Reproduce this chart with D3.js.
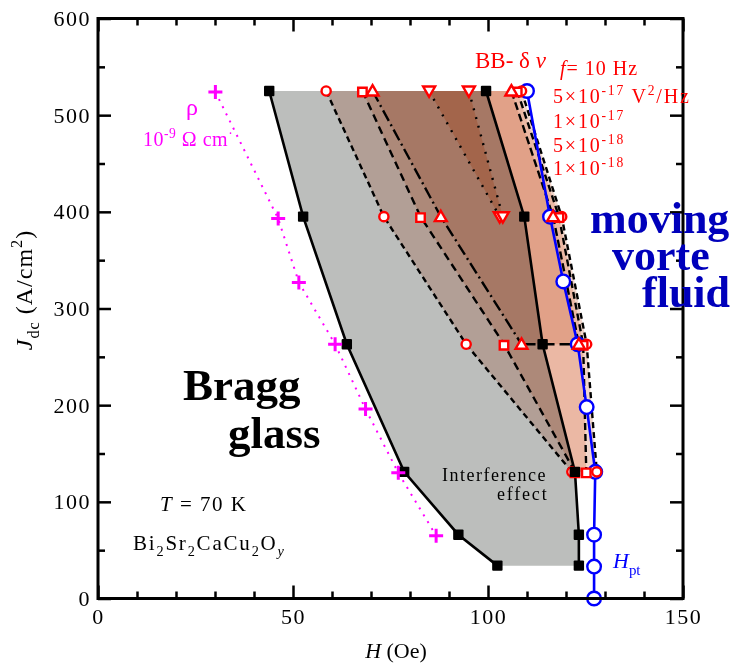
<!DOCTYPE html>
<html><head><meta charset="utf-8">
<script src="https://cdn.jsdelivr.net/npm/d3@7"></script>
<style>
body{margin:0;background:#fff}
svg{display:block}
text{font-family:"Liberation Serif","Times New Roman",serif}
</style>
</head><body>
<svg id="c" width="733" height="665"></svg>
<script>
// ---------- data ----------
const xMajorTicks = [0, 50, 100, 150];
const xMinorTicks = [10, 20, 30, 40, 60, 70, 80, 90, 110, 120, 130, 140];
const yMajorTicks = [0, 100, 200, 300, 400, 500, 600];
const yMinorTicks = [50, 150, 250, 350, 450, 550];

// Bragg glass boundaries (black squares)
const braggJ = [525, 395, 263, 131, 66, 34];
const braggLeftH = [43.9, 52.6, 63.8, 78.5, 92.4, 102.4];
const braggRightH = [99.5, 109.3, 114.0, 122.3, 123.3, 123.3];

// H_pt (blue circles)
const hptJ = [525, 395, 328, 263, 198, 131, 66, 33, 0];
const hptH = [110.0, 115.9, 119.3, 123.0, 125.3, 127.5, 127.2, 127.2, 127.2];

// rho = 1e-9 Ohm cm (magenta crosses)
const rhoJ = [524, 393, 327, 263, 196, 130, 65];
const rhoH = [30.1, 46.2, 51.5, 60.8, 68.6, 77.0, 86.7];

// BB noise contours (f = 10 Hz)
const noiseJ = [525, 395, 263, 131];
const n1e18Left  = [58.5, 73.3, 94.4, 121.5];   // circles
const n1e18Right = [108.6, 118.9, 125.3, 127.9];
const n5e18Left  = [67.8, 82.7, 104.1, 122.3];  // squares
const n5e18Right = [107.5, 118.2, 124.4, 125.2];
const n1e17Left  = [70.4, 87.9, 108.6];         // triangles up
const n1e17Right = [106.0, 116.7, 123.3];
const n5e17Left  = [84.9, 103.0];               // triangles down
const n5e17Right = [95.1, 103.8];

// ---------- setup ----------
const svg = d3.select("#c");
const x = d3.scaleLinear().domain([0, 150]).range([98, 683]);
const y = d3.scaleLinear().domain([0, 600]).range([598.5, 18.5]);
const zip = (hs, js) => hs.map((h, i) => [h, js[i]]);
const line = d3.line().x(d => x(d[0])).y(d => y(d[1]));
const poly = (L, R, js) => {
  const left = zip(L, js.slice(0, L.length));
  const right = zip(R, js.slice(0, R.length)).reverse();
  return line(left.concat(right)) + "Z";
};

// ---------- regions ----------
const gReg = svg.append("g");
gReg.append("path").attr("d", poly(braggLeftH, braggRightH, braggJ)).attr("fill", "#bcbebc");
const layers = [
  [n1e18Left, n1e18Right, "#f2d6cb"],
  [n5e18Left, n5e18Right, "#f8dcce"],
  [n1e17Left, n1e17Right, "#f5e0d4"],
  [n5e17Left, n5e17Right, "#fad6bc"]
];
layers.forEach(([L, R, c]) => {
  gReg.append("path").attr("d", poly(L, R, noiseJ)).attr("fill", c)
    .style("mix-blend-mode", "multiply");
});

// ---------- lines ----------
const gL = svg.append("g").attr("fill", "none");
gL.append("path").attr("d", line(zip(rhoH, rhoJ))).attr("stroke", "#ff00ff")
  .attr("stroke-width", 2).attr("stroke-dasharray", "2,6");
const dashed = (L, js, dash) => gL.append("path").attr("d", line(zip(L, js)))
  .attr("stroke", "#000").attr("stroke-width", 2.4).attr("stroke-dasharray", dash);
dashed(n1e18Left, noiseJ, "6,4");
dashed(n5e18Left, noiseJ, "8,5");
dashed(n1e17Left, noiseJ, "12,4,2,4");
dashed(n5e17Left, noiseJ, "2,7");
dashed(n5e17Right, noiseJ, "2,7");
dashed(n1e17Right, noiseJ, "8,4");
dashed(n5e18Right, noiseJ, "7,4");
dashed(n1e18Right, noiseJ, "6,4");
gL.append("path").attr("d", line([[n1e17Left[2], noiseJ[2]], [n1e17Right[2], noiseJ[2]]]))
  .attr("stroke", "#000").attr("stroke-width", 2.4).attr("stroke-dasharray", "14,5");
gL.append("path").attr("d", line(zip(braggLeftH, braggJ))).attr("stroke", "#000").attr("stroke-width", 2.6);
gL.append("path").attr("d", line(zip(braggRightH, braggJ))).attr("stroke", "#000").attr("stroke-width", 2.6);
gL.append("path").attr("d", line(zip(hptH, hptJ))).attr("stroke", "#0000ff").attr("stroke-width", 2.6);

// ---------- markers ----------
const gM = svg.append("g");
gM.selectAll(".hpt").data(zip(hptH, hptJ)).join("circle")
  .attr("cx", d => x(d[0])).attr("cy", d => y(d[1])).attr("r", 6.8)
  .attr("fill", "#fff").attr("stroke", "#0000ff").attr("stroke-width", 2.4);
const redSym = (hs, type, rot) => {
  const pts = zip(hs, noiseJ.slice(0, hs.length));
  if (type === "circle") {
    gM.append("g").selectAll("circle").data(pts).join("circle")
      .attr("cx", d => x(d[0])).attr("cy", d => y(d[1])).attr("r", 4.6)
      .attr("fill", "#fff").attr("stroke", "#ff0000").attr("stroke-width", 2.4);
  } else {
    const sym = d3.symbol().type(type === "square" ? d3.symbolSquare : d3.symbolTriangle)
      .size(type === "square" ? 72 : 62);
    gM.append("g").selectAll("path").data(pts).join("path")
      .attr("d", sym())
      .attr("transform", d => `translate(${x(d[0])},${y(d[1]) + (rot ? -1 : 1)}) rotate(${rot ? 180 : 0})`)
      .attr("fill", "#fff").attr("stroke", "#ff0000").attr("stroke-width", 2.4);
  }
};
redSym(n1e18Left, "circle"); redSym(n1e18Right, "circle");
redSym(n5e18Left, "square"); redSym(n5e18Right, "square");
redSym(n1e17Left, "tri"); redSym(n1e17Right, "tri");
redSym(n5e17Left, "tri", true); redSym(n5e17Right, "tri", true);
gM.selectAll(".bl").data(zip(braggLeftH, braggJ).concat(zip(braggRightH, braggJ))).join("rect")
  .attr("x", d => x(d[0]) - 5.2).attr("y", d => y(d[1]) - 5.2)
  .attr("width", 10.4).attr("height", 10.4).attr("rx", 1).attr("fill", "#000");
gM.selectAll(".rho").data(zip(rhoH, rhoJ)).join("path")
  .attr("d", "M-7,0H7M0,-7V7")
  .attr("transform", d => `translate(${x(d[0])},${y(d[1])})`)
  .attr("stroke", "#ff00ff").attr("stroke-width", 3).attr("fill", "none");

// ---------- axes ----------
function styleAxis(g) {
  g.select(".domain").remove();
  g.selectAll(".tick line").attr("stroke", "#000").attr("stroke-width", 2.5);
  g.attr("font-family", null).attr("font-size", null);
  g.selectAll("text").attr("font-size", 22).attr("fill", "#000").attr("letter-spacing", 1.5);
}
const y0 = y(0), yTop = y(600), x0 = x(0), xR = x(150);
svg.append("g").attr("transform", `translate(0,${y0})`)
  .call(d3.axisBottom(x).tickValues(xMajorTicks).tickSize(-13).tickSizeOuter(0).tickPadding(10).tickFormat(d3.format("d"))).call(styleAxis);
svg.append("g").attr("transform", `translate(0,${y0})`)
  .call(d3.axisBottom(x).tickValues(xMinorTicks).tickSize(-7).tickSizeOuter(0).tickFormat(() => "")).call(styleAxis);
svg.append("g").attr("transform", `translate(0,${yTop})`)
  .call(d3.axisTop(x).tickValues(xMajorTicks).tickSize(-13).tickSizeOuter(0).tickFormat(() => "")).call(styleAxis);
svg.append("g").attr("transform", `translate(0,${yTop})`)
  .call(d3.axisTop(x).tickValues(xMinorTicks).tickSize(-7).tickSizeOuter(0).tickFormat(() => "")).call(styleAxis);
svg.append("g").attr("transform", `translate(${x0},0)`)
  .call(d3.axisLeft(y).tickValues(yMajorTicks).tickSize(-13).tickSizeOuter(0).tickPadding(7).tickFormat(d3.format("d"))).call(styleAxis);
svg.append("g").attr("transform", `translate(${x0},0)`)
  .call(d3.axisLeft(y).tickValues(yMinorTicks).tickSize(-7).tickSizeOuter(0).tickFormat(() => "")).call(styleAxis);
svg.append("g").attr("transform", `translate(${xR},0)`)
  .call(d3.axisRight(y).tickValues(yMajorTicks).tickSize(-13).tickSizeOuter(0).tickFormat(() => "")).call(styleAxis);
svg.append("g").attr("transform", `translate(${xR},0)`)
  .call(d3.axisRight(y).tickValues(yMinorTicks).tickSize(-7).tickSizeOuter(0).tickFormat(() => "")).call(styleAxis);
svg.append("rect").attr("x", x0).attr("y", yTop).attr("width", xR - x0).attr("height", y0 - yTop)
  .attr("fill", "none").attr("stroke", "#000").attr("stroke-width", 3);

// ---------- text ----------
function rich(x0, y0, parts, size, attrs) {
  const t = svg.append("text").attr("x", x0).attr("y", y0).attr("font-size", size);
  for (const a in (attrs || {})) t.attr(a, attrs[a]);
  let shift = 0;
  parts.forEach(p => {
    const [str, kind] = typeof p === "string" ? [p, ""] : p;
    const flags = kind.split(" ");
    const ts = t.append("tspan").text(str);
    let target = 0, fs = null;
    if (flags.includes("sub")) { target = size * 0.3; fs = size * 0.68; }
    if (flags.includes("sup")) { target = -size * 0.42; fs = size * 0.68; }
    if (fs) ts.attr("font-size", fs);
    if (flags.includes("it")) ts.attr("font-style", "italic");
    if (target !== shift) { ts.attr("dy", target - shift); shift = target; }
  });
  return t;
}
rich(396, 658, [["H", "it"], " (Oe)"], 22, { "text-anchor": "middle" });
rich(0, 0, [["J", "it"], ["dc", "sub"], " (A/cm", ["2", "sup"], ")"], 24,
  { "text-anchor": "middle", transform: "translate(32,290) rotate(-90)", "letter-spacing": 1 });

rich(192, 115, ["ρ"], 24, { fill: "#ff00ff", "text-anchor": "middle" });
rich(143, 146, ["10", ["-9", "sup"], "  Ω cm", ["·", "sup"]], 20, { fill: "#ff00ff", "letter-spacing": 0.5 });

rich(475, 68, ["BB-", " δ", " ", ["ν", "it"]], 23, { fill: "#ff0000" });
rich(560, 75, [["f", "it"], "= 10 Hz"], 20, { fill: "#ff0000", "letter-spacing": 1 });
rich(553, 103, ["5×10", ["-17", "sup"], " V", ["2", "sup"], "/Hz"], 20, { fill: "#ff0000", "letter-spacing": 1.8 });
rich(553, 128, ["1×10", ["-17", "sup"]], 20, { fill: "#ff0000", "letter-spacing": 1.8 });
rich(553, 152, ["5×10", ["-18", "sup"]], 20, { fill: "#ff0000", "letter-spacing": 1.8 });
rich(553, 175, ["1×10", ["-18", "sup"]], 20, { fill: "#ff0000", "letter-spacing": 1.8 });

const blueBold = { fill: "#0000bb", "font-weight": "bold" };
rich(590, 233, ["moving"], 44, blueBold);
rich(612, 270, ["vorte"], 44, blueBold);
rich(642, 307, ["fluid"], 44, blueBold);

rich(183, 400, ["Bragg"], 45, { "font-weight": "bold" });
rich(228, 448, ["glass"], 45, { "font-weight": "bold" });

rich(160, 511, [["T", "it"], " = 70 K"], 21, { "letter-spacing": 1.5 });
rich(133, 550, ["Bi", ["2", "sub"], "Sr", ["2", "sub"], "CaCu", ["2", "sub"], "O", ["y", "sub it"]], 21, { "letter-spacing": 1.8 });

rich(442, 481, ["Interference"], 18, { "letter-spacing": 1.5 });
rich(497, 500, ["effect"], 18, { "letter-spacing": 1.8 });

rich(613, 568, [["H", "it"], ["pt", "sub"]], 22, { fill: "#0000ff" });
</script>
</body></html>
